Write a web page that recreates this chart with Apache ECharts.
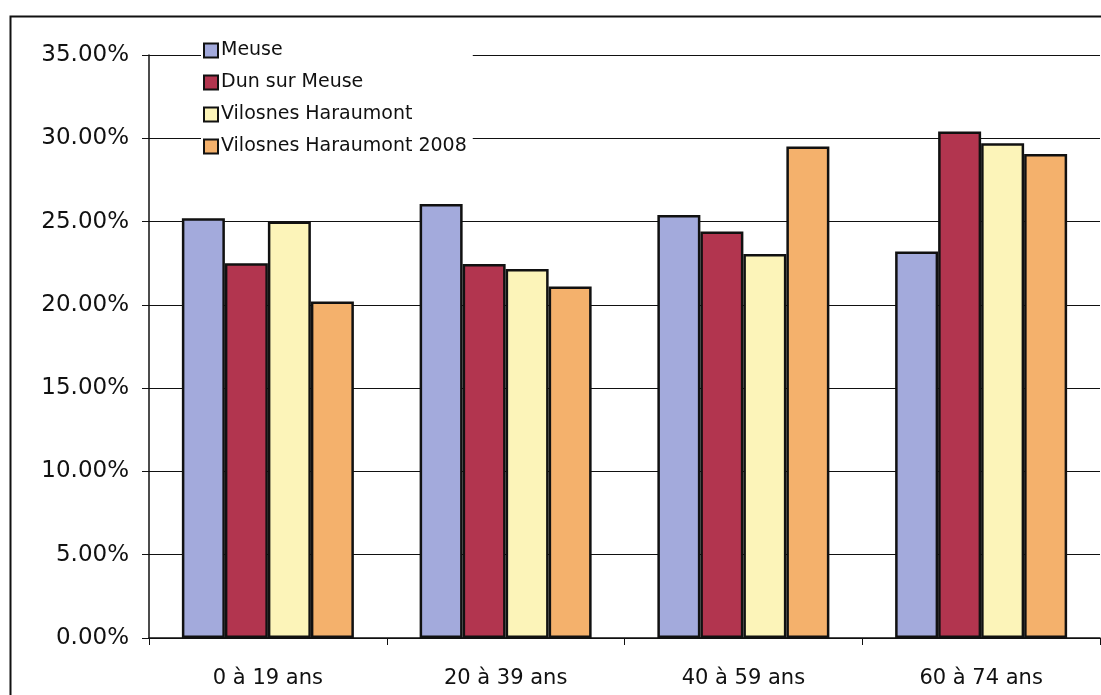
<!DOCTYPE html>
<html>
<head>
<meta charset="utf-8">
<script src="https://cdn.jsdelivr.net/npm/echarts@6/dist/echarts.min.js"></script>
<style>
html,body{margin:0;padding:0;background:#fff;}
#c{width:1101px;height:695px;}
</style>
</head>
<body>
<div id="c"></div>
<script>
const categories = ['0 à 19 ans', '20 à 39 ans', '40 à 59 ans', '60 à 74 ans'];
const meuse = [0.252, 0.2605, 0.254, 0.232];
const dunSurMeuse = [0.225, 0.2245, 0.244, 0.304];
const vilosnes = [0.250, 0.2215, 0.2305, 0.297];
const vilosnes2008 = [0.202, 0.211, 0.295, 0.2905];
const seriesNames = ['Meuse', 'Dun sur Meuse', 'Vilosnes Haraumont', 'Vilosnes Haraumont 2008'];
const colors = ['#a3aadc', '#b2354f', '#fcf4b9', '#f4b16c'];

const chart = echarts.init(document.getElementById('c'));
const data = [meuse, dunSurMeuse, vilosnes, vilosnes2008];
const font = 'DejaVu Sans, Liberation Sans, Arial';
chart.setOption({
  animation: false,
  backgroundColor: '#fff',
  graphic: [{
    type: 'rect', left: 8, top: 14, z: -10,
    shape: {width: 1200, height: 800},
    style: {fill: 'none', stroke: '#111', lineWidth: 2}
  }],
  grid: {left: 149, top: 55, right: 1, bottom: 57, containLabel: false},
  legend: {
    orient: 'vertical', left: 201, top: 41,
    icon: 'rect',
    itemWidth: 14, itemHeight: 14, itemGap: 13,
    backgroundColor: '#fff', padding: [0, 6, 2, 2],
    textStyle: {fontFamily: font, fontSize: 19, color: '#111', padding: [0, 0, 0, -2]},
    itemStyle: {borderColor: '#111', borderWidth: 2},
    data: seriesNames
  },
  xAxis: {
    type: 'category', data: categories,
    axisLine: {lineStyle: {color: '#111', width: 1.5}},
    axisTick: {show: true, length: 7, lineStyle: {color: '#111'}},
    axisLabel: {fontFamily: font, fontSize: 21, color: '#111', margin: 30}
  },
  yAxis: {
    type: 'value', min: 0, max: 0.35, interval: 0.05,
    axisLine: {show: true, lineStyle: {color: '#111', width: 1.5}},
    axisTick: {show: true, length: 7, lineStyle: {color: '#111'}},
    splitLine: {lineStyle: {color: '#111', width: 1.2}},
    axisLabel: {fontFamily: font, fontSize: 23, color: '#111', margin: 20,
      formatter: v => (v * 100).toFixed(2) + '%'}
  },
  series: seriesNames.map((n, i) => ({
    name: n, type: 'bar', data: data[i],
    barWidth: 43, barGap: '0%', barCategoryGap: '27%',
    itemStyle: {color: colors[i], borderColor: '#111', borderWidth: 2.5}
  }))
});
</script>
</body>
</html>
